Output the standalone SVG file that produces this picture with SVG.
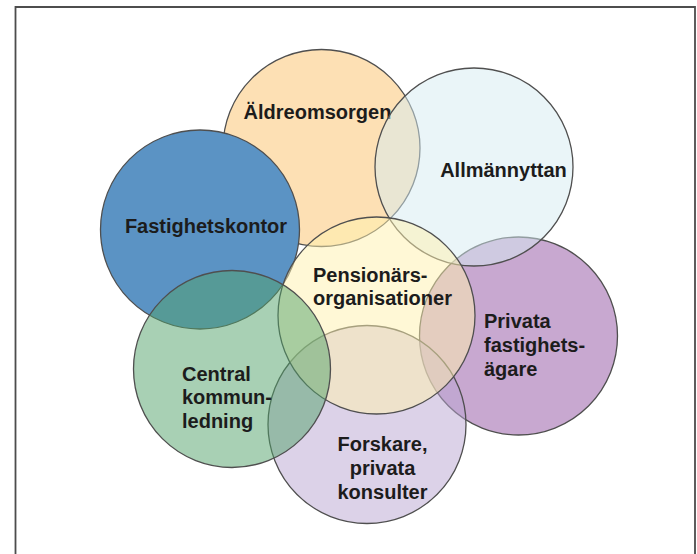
<svg xmlns="http://www.w3.org/2000/svg" width="697" height="554" viewBox="0 0 697 554">
  <style>
    .ring { stroke: #4f4f4f; stroke-width: 1.3; fill-opacity: 0.5; }
    .solid { fill-opacity: 1; }
    .label { font-family: "Liberation Sans", Arial, Helvetica, sans-serif; font-weight: bold; font-size: 20px; fill: #1c1c1c; }
    .mid { text-anchor: middle; }
  </style>
  <rect width="697" height="554" fill="#ffffff"/>
  <!-- frame, open at the bottom -->
  <path d="M15.5,554 V7 H695 V554" fill="none" stroke="#4d4d4d" stroke-width="1.8"/>

  <g id="connectors"/>

  <g id="node-privata">
    <circle class="ring" cx="518.5" cy="336" r="99" fill="#9151a1"/>
    <text class="label" x="484" y="328">Privata</text>
    <text class="label" x="484" y="352">fastighets-</text>
    <text class="label" x="484" y="376">ägare</text>
  </g>

  <g id="node-forskare">
    <circle class="ring" cx="367" cy="424.5" r="99" fill="#b9a5d1"/>
    <text class="label mid" x="382.5" y="451">Forskare,</text>
    <text class="label mid" x="382.5" y="475">privata</text>
    <text class="label mid" x="382.5" y="499">konsulter</text>
  </g>

  <g id="node-aldreomsorgen">
    <circle class="ring" cx="321.5" cy="148" r="98.5" fill="#fbc169"/>
    <text class="label mid" x="317.5" y="119">Äldreomsorgen</text>
  </g>

  <g id="node-allmannyttan">
    <circle class="ring" cx="474" cy="167" r="99" fill="#d5ebf1"/>
    <text class="label mid" x="503.5" y="177">Allmännyttan</text>
  </g>

  <g id="node-fastighetskontor">
    <circle class="ring solid" cx="200" cy="229.5" r="99.5" fill="#5b93c4"/>
    <text class="label mid" x="206" y="233">Fastighetskontor</text>
  </g>

  <g id="node-pensionarsorganisationer">
    <circle class="ring" cx="376.5" cy="315.5" r="98.5" fill="#fff1ad"/>
    <text class="label" x="313" y="282">Pensionärs-</text>
    <text class="label" x="313" y="305">organisationer</text>
  </g>

  <g id="node-central">
    <circle class="ring" cx="232" cy="369" r="98.5" fill="#51a169"/>
    <text class="label" x="182" y="381">Central</text>
    <text class="label" x="182" y="404">kommun-</text>
    <text class="label" x="182" y="428">ledning</text>
  </g>
</svg>
